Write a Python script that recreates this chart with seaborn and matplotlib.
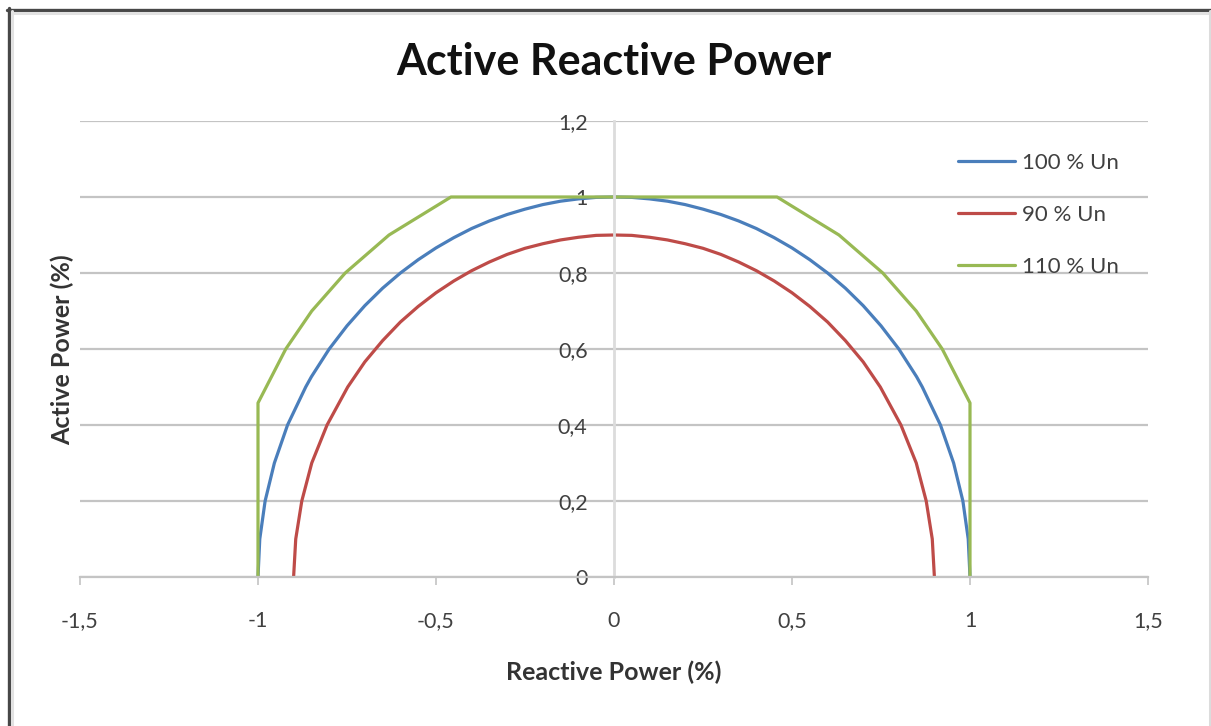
import matplotlib
matplotlib.use("Agg")
import matplotlib.pyplot as plt
from matplotlib.lines import Line2D
import seaborn as sns
import pandas as pd

# ---- data ----
q_100 = [-1.0, -0.995, -0.98, -0.954, -0.917, -0.866, -0.85, -0.8, -0.75, -0.7, -0.65, -0.6, -0.55, -0.5,
         -0.45, -0.4, -0.35, -0.3, -0.25, -0.2, -0.15, -0.1, -0.05, 0.0,
         0.05, 0.1, 0.15, 0.2, 0.25, 0.3, 0.35, 0.4, 0.45, 0.5, 0.55, 0.6, 0.65, 0.7, 0.75, 0.8, 0.85,
         0.866, 0.917, 0.954, 0.98, 0.995, 1.0]
p_100 = [0.0, 0.1, 0.2, 0.3, 0.4, 0.5, 0.527, 0.6, 0.661, 0.714, 0.76, 0.8, 0.835, 0.866,
         0.893, 0.917, 0.937, 0.954, 0.968, 0.98, 0.989, 0.995, 0.999, 1.0,
         0.999, 0.995, 0.989, 0.98, 0.968, 0.954, 0.937, 0.917, 0.893, 0.866, 0.835, 0.8, 0.76, 0.714, 0.661, 0.6, 0.527,
         0.5, 0.4, 0.3, 0.2, 0.1, 0.0]

q_90 = [-0.9, -0.894, -0.877, -0.849, -0.806, -0.748, -0.7, -0.65, -0.6, -0.55, -0.5, -0.45, -0.4,
        -0.35, -0.3, -0.25, -0.2, -0.15, -0.1, -0.05, 0.0,
        0.05, 0.1, 0.15, 0.2, 0.25, 0.3, 0.35, 0.4, 0.45, 0.5, 0.55, 0.6, 0.65, 0.7,
        0.748, 0.806, 0.849, 0.877, 0.894, 0.9]
p_90 = [0.0, 0.1, 0.2, 0.3, 0.4, 0.5, 0.566, 0.622, 0.671, 0.712, 0.748, 0.779, 0.806,
        0.829, 0.849, 0.865, 0.877, 0.887, 0.894, 0.899, 0.9,
        0.899, 0.894, 0.887, 0.877, 0.865, 0.849, 0.829, 0.806, 0.779, 0.748, 0.712, 0.671, 0.622, 0.566,
        0.5, 0.4, 0.3, 0.2, 0.1, 0.0]

q_110 = [-1.0, -1.0, -0.922, -0.849, -0.755, -0.632, -0.458, 0.0, 0.458, 0.632, 0.755, 0.849, 0.922, 1.0, 1.0]
p_110 = [0.0, 0.458, 0.6, 0.7, 0.8, 0.9, 1.0, 1.0, 1.0, 0.9, 0.8, 0.7, 0.6, 0.458, 0.0]

series_names = ["100 % Un", "90 % Un", "110 % Un"]
series_colors = ["#4A7EBB", "#BE4B48", "#98B954"]

x_ticks = [-1.5, -1.0, -0.5, 0.0, 0.5, 1.0, 1.5]
x_tick_labels = ["-1,5", "-1", "-0,5", "0", "0,5", "1", "1,5"]
y_ticks = [0.0, 0.2, 0.4, 0.6, 0.8, 1.0, 1.2]
y_tick_labels = ["0", "0,2", "0,4", "0,6", "0,8", "1", "1,2"]

title = "Active Reactive Power"
x_label = "Reactive Power (%)"
y_label = "Active Power (%)"

# ---- build long table ----
frames = []
for name, q, p in zip(series_names, [q_100, q_90, q_110], [p_100, p_90, p_110]):
    frames.append(pd.DataFrame({"Q": q, "P": p, "series": name}))
df = pd.concat(frames, ignore_index=True)

sns.set_style("white")
plt.rcParams["font.family"] = ["Lato", "DejaVu Sans"]

W, H = 1211, 726
fig = plt.figure(figsize=(W / 100, H / 100), dpi=100)
ax = fig.add_axes([80 / W, 1 - 577 / H, (1148 - 80) / W, (577 - 121) / H])

sns.lineplot(data=df, x="Q", y="P", hue="series", hue_order=series_names,
             palette=series_colors, sort=False, estimator=None,
             linewidth=2.3, ax=ax, legend=True)

for s in ["top", "right"]:
    ax.spines[s].set_visible(False)
ax.spines["left"].set_position(("data", 0))
ax.spines["left"].set_color("#dcdcdc")
ax.spines["left"].set_linewidth(2)
ax.spines["bottom"].set_color("#c4c4c4")
ax.spines["bottom"].set_linewidth(1.6)

ax.set_xlim(-1.5, 1.5)
ax.set_ylim(0, 1.2)
ax.set_xticks(x_ticks)
ax.set_xticklabels(x_tick_labels)
ax.set_yticks(y_ticks)
ax.set_yticklabels(y_tick_labels)
ax.set_xlabel("")
ax.set_ylabel("")

ax.set_axisbelow(True)
ax.yaxis.grid(True, color="#c4c4c4", linewidth=1.6)
ax.xaxis.grid(False)

ax.tick_params(axis="y", length=0, pad=19, labelsize=15.5, labelcolor="#404040")
ax.tick_params(axis="x", direction="out", length=5.5, width=1.2, color="#c4c4c4", pad=19,
               bottom=True, labelsize=15.5, labelcolor="#404040")

leg = ax.legend(loc="upper left", bbox_to_anchor=(958 / W, 1 - 153 / H), bbox_transform=fig.transFigure,
                frameon=False, fontsize=16, handlelength=2.57, handletextpad=0.3,
                labelspacing=1.44, borderpad=0, borderaxespad=0)
for t in leg.get_texts():
    t.set_color("#404040")

fig.text(614 / W, 1 - 62 / H, title, ha="center", va="center", fontsize=31, fontweight="bold", color="#111111")
fig.text(614 / W, 1 - 672 / H, x_label, ha="center", va="center", fontsize=18, fontweight="bold", color="#333333")
fig.text(62 / W, 1 - 350 / H, y_label, ha="center", va="center", rotation=90, fontsize=18, fontweight="bold", color="#333333")

# outer chart frame (Excel style)
fig.add_artist(Line2D([7 / W, 1], [1 - 9.5 / H, 1 - 9.5 / H], transform=fig.transFigure, color="#474747", linewidth=2.4))
fig.add_artist(Line2D([10 / W, 1], [1 - 12.5 / H, 1 - 12.5 / H], transform=fig.transFigure, color="#e2e2e2", linewidth=2.2))
fig.add_artist(Line2D([8.5 / W, 8.5 / W], [0, 1 - 8 / H], transform=fig.transFigure, color="#474747", linewidth=2.4))
fig.add_artist(Line2D([11.5 / W, 11.5 / W], [0, 1 - 11 / H], transform=fig.transFigure, color="#e2e2e2", linewidth=2.2))
fig.add_artist(Line2D([1209.5 / W, 1209.5 / W], [0, 1 - 11 / H], transform=fig.transFigure, color="#dcdcdc", linewidth=2.2))

fig.savefig("out.png", dpi=100)
